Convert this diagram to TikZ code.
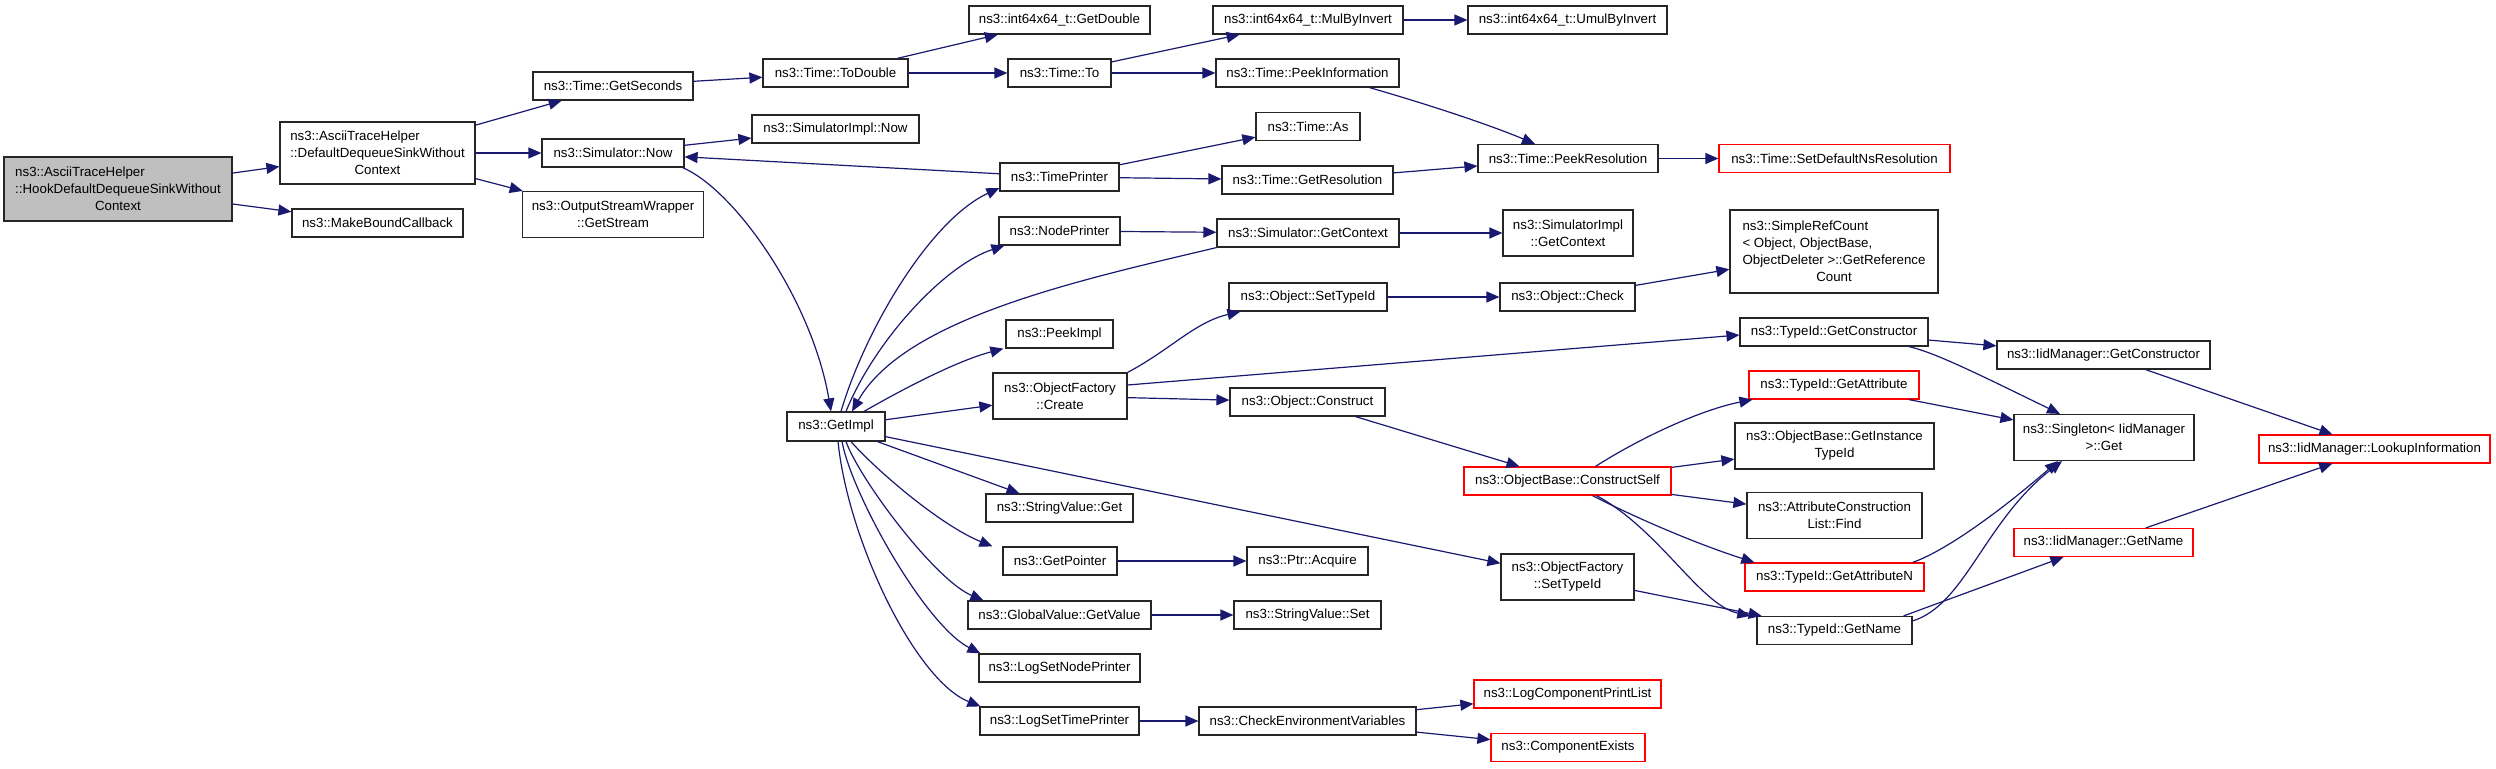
\documentclass[tikz,border=0pt]{standalone}
\usepackage{fontspec}
\setmainfont{Liberation Sans}
\usetikzlibrary{arrows.meta}
\definecolor{edgec}{HTML}{191970}
\definecolor{mainfill}{HTML}{BFBFBF}
\newcommand{\ctrline}[1]{\null\hfill #1\hfill\null}
\tikzset{
  nbox/.style={draw=black!85, line width=1.2pt, fill=white, inner sep=0pt,
    font=\fontsize{13.3}{17}\selectfont, align=left},
  rbox/.style={nbox, draw=red},
  edg/.style={draw=edgec, line width=1.2pt, -{Triangle[length=13pt,width=11pt]}},
}
\begin{document}
\begin{tikzpicture}[x=1pt,y=-1pt]
\useasboundingbox (0,0) rectangle (2496,768);
% column 0-1
\node[nbox,fill=mainfill,minimum width=228pt,minimum height=64pt] (main) at (118,189) {ns3::AsciiTraceHelper\\::HookDefaultDequeueSinkWithout\\\ctrline{Context}};
\node[nbox,minimum width=195pt,minimum height=62pt] (ddsw) at (377.5,153) {ns3::AsciiTraceHelper\\::DefaultDequeueSinkWithout\\\ctrline{Context}};
\node[nbox,minimum width=171pt,minimum height=28pt] (mbc) at (377.5,223) {ns3::MakeBoundCallback};
% column 2
\node[nbox,minimum width=160pt,minimum height=28pt] (getsec) at (613,86) {ns3::Time::GetSeconds};
\node[nbox,minimum width=142pt,minimum height=28pt] (simnow) at (613,153) {ns3::Simulator::Now};
\node[nbox,minimum width=181pt,minimum height=46pt] (osw) at (613,214.5) {ns3::OutputStreamWrapper\\\ctrline{::GetStream}};
% column 3
\node[nbox,minimum width=145pt,minimum height=28pt] (todouble) at (835.5,73) {ns3::Time::ToDouble};
\node[nbox,minimum width=167pt,minimum height=28pt] (simimplnow) at (835.5,129) {ns3::SimulatorImpl::Now};
\node[nbox,minimum width=98pt,minimum height=29pt] (getimpl) at (836,426.5) {ns3::GetImpl};
% column 4
\node[nbox,minimum width=181pt,minimum height=28pt] (getdouble) at (1059.5,20) {ns3::int64x64\_t::GetDouble};
\node[nbox,minimum width=103pt,minimum height=28pt] (timeto) at (1059.5,73) {ns3::Time::To};
\node[nbox,minimum width=119pt,minimum height=28pt] (timeprinter) at (1059.5,177) {ns3::TimePrinter};
\node[nbox,minimum width=121pt,minimum height=28pt] (nodeprinter) at (1059.5,231) {ns3::NodePrinter};
\node[nbox,minimum width=107pt,minimum height=28pt] (peekimpl) at (1059.5,334) {ns3::PeekImpl};
\node[nbox,minimum width=134pt,minimum height=46pt] (create) at (1060,396) {ns3::ObjectFactory\\\ctrline{::Create}};
\node[nbox,minimum width=147pt,minimum height=28pt] (svget) at (1059.5,508) {ns3::StringValue::Get};
\node[nbox,minimum width=114pt,minimum height=28pt] (getpointer) at (1060,561) {ns3::GetPointer};
\node[nbox,minimum width=183pt,minimum height=28pt] (gvgetvalue) at (1059.5,615) {ns3::GlobalValue::GetValue};
\node[nbox,minimum width=161pt,minimum height=28pt] (logsetnode) at (1059.5,668) {ns3::LogSetNodePrinter};
\node[nbox,minimum width=159pt,minimum height=28pt] (logsettime) at (1059.5,721) {ns3::LogSetTimePrinter};
% column 5
\node[nbox,minimum width=190pt,minimum height=28pt] (mulbyinv) at (1308,20) {ns3::int64x64\_t::MulByInvert};
\node[nbox,minimum width=183pt,minimum height=28pt] (peekinfo) at (1307.5,73) {ns3::Time::PeekInformation};
\node[nbox,minimum width=104pt,minimum height=28pt] (timeas) at (1308,126.5) {ns3::Time::As};
\node[nbox,minimum width=171pt,minimum height=28pt] (getres) at (1307.5,180) {ns3::Time::GetResolution};
\node[nbox,minimum width=182pt,minimum height=28pt] (simgetctx) at (1308,233) {ns3::Simulator::GetContext};
\node[nbox,minimum width=158pt,minimum height=28pt] (objsettypeid) at (1308,297) {ns3::Object::SetTypeId};
\node[nbox,minimum width=155pt,minimum height=28pt] (objconstruct) at (1307.5,402) {ns3::Object::Construct};
\node[nbox,minimum width=121pt,minimum height=28pt] (ptracquire) at (1307.5,561) {ns3::Ptr::Acquire};
\node[nbox,minimum width=147pt,minimum height=28pt] (svset) at (1307.5,615) {ns3::StringValue::Set};
\node[nbox,minimum width=217pt,minimum height=28pt] (checkenv) at (1307.5,721) {ns3::CheckEnvironmentVariables};
% column 6
\node[nbox,minimum width=199pt,minimum height=28pt] (umulbyinv) at (1567.5,20) {ns3::int64x64\_t::UmulByInvert};
\node[nbox,minimum width=180pt,minimum height=28pt] (peekres) at (1568,158.5) {ns3::Time::PeekResolution};
\node[nbox,minimum width=130pt,minimum height=46pt] (simimplgetctx) at (1568,233) {ns3::SimulatorImpl\\\ctrline{::GetContext}};
\node[nbox,minimum width=135pt,minimum height=28pt] (objcheck) at (1567.5,297) {ns3::Object::Check};
\node[rbox,minimum width=207pt,minimum height=28pt] (constructself) at (1567.5,481) {ns3::ObjectBase::ConstructSelf};
\node[nbox,minimum width=133pt,minimum height=46pt] (ofsettypeid) at (1567.5,577) {ns3::ObjectFactory\\\ctrline{::SetTypeId}};
\node[rbox,minimum width=187pt,minimum height=28pt] (logcompprint) at (1567.5,694) {ns3::LogComponentPrintList};
\node[rbox,minimum width=154pt,minimum height=28pt] (compexists) at (1568,747.5) {ns3::ComponentExists};
% column 7
\node[rbox,minimum width=231pt,minimum height=28pt] (setdefns) at (1834.5,158.5) {ns3::Time::SetDefaultNsResolution};
\node[nbox,minimum width=208pt,minimum height=83pt] (simplerefcount) at (1834,251.5) {ns3::SimpleRefCount\\< Object, ObjectBase,\\ObjectDeleter >::GetReference\\\ctrline{Count}};
\node[nbox,minimum width=188pt,minimum height=28pt] (getctor) at (1834,332) {ns3::TypeId::GetConstructor};
\node[rbox,minimum width=170pt,minimum height=28pt] (getattr) at (1834,385) {ns3::TypeId::GetAttribute};
\node[nbox,minimum width=199pt,minimum height=46pt] (getinsttypeid) at (1834.5,446) {ns3::ObjectBase::GetInstance\\\ctrline{TypeId}};
\node[nbox,minimum width=175pt,minimum height=46pt] (acfind) at (1834.5,515.5) {ns3::AttributeConstruction\\\ctrline{List::Find}};
\node[rbox,minimum width=179pt,minimum height=28pt] (getattrn) at (1834.5,577) {ns3::TypeId::GetAttributeN};
\node[nbox,minimum width=155pt,minimum height=28pt] (typeidgetname) at (1834.5,630.5) {ns3::TypeId::GetName};
% column 8
\node[nbox,minimum width=213pt,minimum height=28pt] (iidgetctor) at (2103.5,355) {ns3::IidManager::GetConstructor};
\node[nbox,minimum width=180pt,minimum height=46pt] (singleton) at (2104,437.5) {ns3::Singleton< IidManager\\\ctrline{>::Get}};
\node[rbox,minimum width=179pt,minimum height=28pt] (iidgetname) at (2103.5,542.5) {ns3::IidManager::GetName};
% column 9
\node[rbox,minimum width=231pt,minimum height=28pt] (lookup) at (2374.5,449) {ns3::IidManager::LookupInformation};

% edges
\draw[edg] (main) -- (ddsw);
\draw[edg] (main) -- (mbc);
\draw[edg] (ddsw) -- (getsec);
\draw[edg] (ddsw) -- (simnow);
\draw[edg] (ddsw) -- (osw);
\draw[edg] (getsec) -- (todouble);
\draw[edg] (simnow) -- (simimplnow);
\draw[edg] ([xshift=-2pt]simnow.south east) .. controls (735,190) and (812,300) .. ([xshift=-5pt]getimpl.north);
\draw[edg] (todouble) -- (getdouble);
\draw[edg] (todouble) -- (timeto);
\draw[edg] (timeto) -- (mulbyinv);
\draw[edg] (timeto) -- (peekinfo);
\draw[edg] (mulbyinv) -- (umulbyinv);
\draw[edg] ([xshift=62pt]peekinfo.south) .. controls (1430,105) and (1490,125) .. ([xshift=-33pt]peekres.north);
\draw[edg] (timeprinter) -- (simnow);
\draw[edg] (timeprinter) -- (timeas);
\draw[edg] (timeprinter) -- (getres);
\draw[edg] (getres) -- (peekres);
\draw[edg] (peekres) -- (setdefns);
\draw[edg] ([xshift=5pt]getimpl.north) .. controls (865,330) and (930,220) .. ([yshift=-11pt]timeprinter.west);
\draw[edg] ([xshift=10pt]getimpl.north) .. controls (875,340) and (945,265) .. ([xshift=6pt]nodeprinter.south west);
\draw[edg] (nodeprinter) -- (simgetctx);
\draw[edg] (simgetctx.south west) .. controls (1080,280) and (905,318) .. ([xshift=16pt]getimpl.north);
\draw[edg] (simgetctx) -- (simimplgetctx);
\draw[edg] ([xshift=28pt]getimpl.north) .. controls (910,385) and (960,360) .. ([xshift=-2pt]peekimpl.south west);
\draw[edg] (getimpl) -- (create);
\draw[edg] (getimpl) -- (svget);
\draw[edg] (getimpl) -- (ofsettypeid);
\draw[edg] ([xshift=15pt]getimpl.south) .. controls (876,470) and (940,525) .. ([xshift=-10pt]getpointer.north west);
\draw[edg] ([xshift=10pt]getimpl.south) .. controls (860,480) and (935,580) .. ([xshift=16pt]gvgetvalue.north west);
\draw[edg] ([xshift=6pt]getimpl.south) .. controls (852,495) and (925,625) .. ([xshift=2pt]logsetnode.north west);
\draw[edg] ([xshift=2pt]getimpl.south) .. controls (848,540) and (915,680) .. ([xshift=1pt]logsettime.north west);
\draw[edg] (getpointer) -- (ptracquire);
\draw[edg] (gvgetvalue) -- (svset);
\draw[edg] (logsettime) -- (checkenv);
\draw[edg] (checkenv) -- (logcompprint);
\draw[edg] (checkenv) -- (compexists);
\draw[edg] (create.north east) .. controls (1170,350) and (1195,322) .. ([xshift=12pt]objsettypeid.south west);
\draw[edg] ([yshift=11pt]create.east) -- ([yshift=-3pt]getctor.west);
\draw[edg] (create) -- (objconstruct);
\draw[edg] (objsettypeid) -- (objcheck);
\draw[edg] (objcheck) -- (simplerefcount);
\draw[edg] (objconstruct) -- (constructself);
\draw[edg] ([xshift=28pt]constructself.north) .. controls (1640,438) and (1700,410) .. ([xshift=4pt]getattr.south west);
\draw[edg] (constructself) -- (getinsttypeid);
\draw[edg] (constructself) -- (acfind);
\draw[edg] ([xshift=25pt]constructself.south) .. controls (1640,520) and (1700,545) .. ([xshift=10pt]getattrn.north west);
\draw[edg] ([xshift=29pt]constructself.south) .. controls (1660,530) and (1700,605) .. ([xshift=-6pt]typeidgetname.north west);
\draw[edg] (ofsettypeid) -- (typeidgetname);
\draw[edg] (getctor) -- (iidgetctor);
\draw[edg] ([xshift=-20pt]getctor.south east) .. controls (1935,352) and (1990,380) .. ([xshift=-44pt]singleton.north);
\draw[edg] (getattr) -- (singleton);
\draw[edg] ([xshift=-12pt]getattrn.north east) .. controls (1940,553) and (1990,520) .. ([xshift=-46pt]singleton.south);
\draw[edg] ([yshift=-5pt]typeidgetname.north east) .. controls (1965,605) and (1985,520) .. ([xshift=-42pt]singleton.south);
\draw[edg] ([xshift=-9pt]typeidgetname.north east) -- ([xshift=50pt]iidgetname.south west);
\draw[edg] (iidgetctor) -- (lookup);
\draw[edg] (iidgetname) -- (lookup);
\end{tikzpicture}
\end{document}
